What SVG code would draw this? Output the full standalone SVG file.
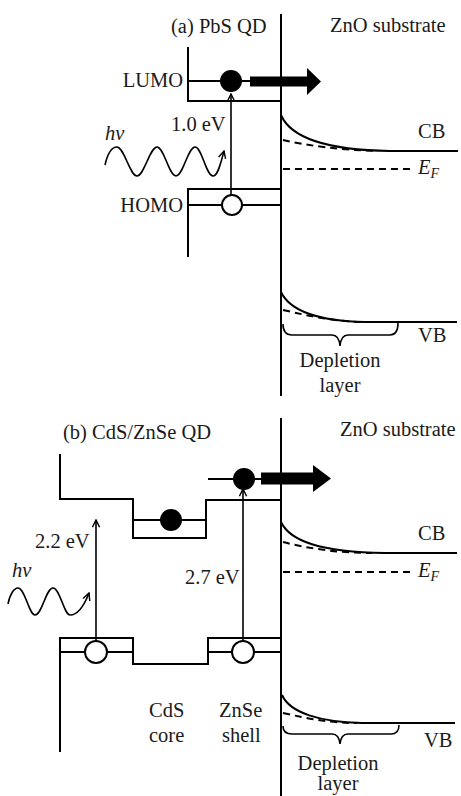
<svg xmlns="http://www.w3.org/2000/svg" width="461" height="796" viewBox="0 0 461 796">
<style>
  .ln { fill: none; stroke: #000; stroke-width: 2; }
  .thin { fill: none; stroke: #000; stroke-width: 1.6; }
  .dash { fill: none; stroke: #000; stroke-width: 2; stroke-dasharray: 7 5; }
  .t { font-family: "Liberation Serif", "Times New Roman", serif; font-size: 20.5px; fill: #1a1a1a; }
  .it { font-style: italic; }
  .dot { fill: #000; }
  .hole { fill: #fff; stroke: #000; stroke-width: 2; }
</style>
<defs>
  <marker id="arr" viewBox="0 0 10 10" refX="9" refY="5" markerWidth="9" markerHeight="9" orient="auto" markerUnits="userSpaceOnUse">
    <path d="M1,1 L9,5 L1,9" fill="none" stroke="#000" stroke-width="1.6"/>
  </marker>
</defs>
<rect width="461" height="796" fill="#fff"/>

<!-- Panel (a) -->
<g id="panel-a">
  <text class="t" x="171" y="33">(a) PbS QD</text>
  <text class="t" x="330" y="32">ZnO substrate</text>
  <g id="a-interface"><line class="ln" x1="281" y1="14" x2="281" y2="396"/></g>
  <g id="a-qd">
    <path class="ln" d="M188,47 V101 H281"/>
    <line class="ln" x1="188" y1="81" x2="250" y2="81"/>
    <path class="ln" d="M188,257 V189 H281"/>
    <line class="ln" x1="188" y1="205" x2="281" y2="205"/>
    <text class="t" x="183" y="87" text-anchor="end">LUMO</text>
    <text class="t" x="183" y="212" text-anchor="end">HOMO</text>
  </g>
  <g id="a-transition">
    <line class="thin" x1="231" y1="195" x2="231" y2="94" marker-end="url(#arr)"/>
    <circle class="dot" cx="231" cy="81" r="11"/>
    <circle class="hole" cx="232" cy="205" r="10"/>
    <text class="t" x="171" y="131">1.0 eV</text>
  </g>
  <g id="a-photon">
    <text class="t it" x="105" y="140">hv</text>
    <path class="thin" d="M105,165 C108,152 112,147 117,147 C124,147 130,176 137,176 C144,176 150,147 157,147 C164,147 169,176 176,176 C183,176 188,147 195,147 C202,147 206,176 213,176 C218,176 221,162 224,151" marker-end="url(#arr)"/>
  </g>
  <g id="a-transfer">
    <polygon class="dot" points="250,76.5 307,76.5 307,68 321,81.5 307,95 307,86.5 250,86.5"/>
  </g>
  <g id="a-zno">
    <path class="ln" d="M281,115 C290,136 320,150 390,151 L458,151"/>
    <path class="dash" d="M283,140 C310,146 340,150 378,151"/>
    <line class="dash" x1="283" y1="169" x2="411" y2="169"/>
    <text class="t" x="418" y="138">CB</text>
    <text class="t it" x="418" y="174">E<tspan font-size="14" dy="4">F</tspan></text>
    <path class="ln" d="M281,292 C290,311 320,321 365,322 L457,322"/>
    <path class="dash" d="M283,310 C310,316 330,321 362,322"/>
    <path class="thin" d="M283,324 Q283,335 292,335 L332,335 Q339,335 340,346 Q341,335 348,335 L390,335 Q398,335 398,323"/>
    <text class="t" x="418" y="342">VB</text>
    <text class="t" x="340" y="367" text-anchor="middle">Depletion</text>
    <text class="t" x="340" y="392" text-anchor="middle">layer</text>
  </g>
</g>

<!-- Panel (b) -->
<g id="panel-b">
  <text class="t" x="63" y="439">(b) CdS/ZnSe QD</text>
  <text class="t" x="340" y="436">ZnO substrate</text>
  <g id="b-interface"><line class="ln" x1="281" y1="418" x2="281" y2="796"/></g>
  <g id="b-qd">
    <path class="ln" d="M60,454 V499 H133 V538 H206 V500 H281"/>
    <line class="ln" x1="133" y1="520" x2="206" y2="520"/>
    <line class="ln" x1="208" y1="479" x2="261" y2="479"/>
    <path class="ln" d="M60,752 V638 H133 V664 H208 V638 H281"/>
    <line class="ln" x1="60" y1="652" x2="133" y2="652"/>
    <line class="ln" x1="208" y1="652" x2="281" y2="652"/>
    <text class="t" x="149" y="717">CdS</text>
    <text class="t" x="149" y="742">core</text>
    <text class="t" x="219" y="717">ZnSe</text>
    <text class="t" x="222" y="742">shell</text>
  </g>
  <g id="b-transitions">
    <line class="thin" x1="96" y1="641" x2="96" y2="520" marker-end="url(#arr)"/>
    <line class="thin" x1="243" y1="641" x2="243" y2="489" marker-end="url(#arr)"/>
    <circle class="dot" cx="171" cy="520" r="11"/>
    <circle class="dot" cx="244" cy="479" r="11"/>
    <circle class="hole" cx="96" cy="652" r="11"/>
    <circle class="hole" cx="243" cy="652" r="11"/>
    <text class="t" x="35" y="548">2.2 eV</text>
    <text class="t" x="185" y="584">2.7 eV</text>
  </g>
  <g id="b-photon">
    <text class="t it" x="12" y="577">hv</text>
    <path class="thin" d="M8,604 C10,594 14,588 18,588 C25,588 29,615 35,615 C42,615 46,588 53,588 C60,588 64,615 70,615 C77,615 84,606 89,593" marker-end="url(#arr)"/>
  </g>
  <g id="b-transfer">
    <polygon class="dot" points="261,472.5 313,472.5 313,465 331,478.5 313,492 313,484.5 261,484.5"/>
  </g>
  <g id="b-zno">
    <path class="ln" d="M281,522 C290,541 320,552 385,553 L457,553"/>
    <path class="dash" d="M283,542 C310,549 340,553 372,553"/>
    <line class="dash" x1="283" y1="572" x2="410" y2="572"/>
    <text class="t" x="418" y="540">CB</text>
    <text class="t it" x="418" y="577">E<tspan font-size="14" dy="4">F</tspan></text>
    <path class="ln" d="M282,695 C290,713 320,722 362,723 L455,723"/>
    <path class="dash" d="M283,713 C310,719 330,723 357,723"/>
    <path class="thin" d="M283,726 Q283,734 292,734 L332,734 Q339,734 340,744 Q341,734 348,734 L391,734 Q399,734 399,725"/>
    <text class="t" x="424" y="747">VB</text>
    <text class="t" x="338" y="770" text-anchor="middle">Depletion</text>
    <text class="t" x="338" y="790" text-anchor="middle">layer</text>
  </g>
</g>
</svg>
